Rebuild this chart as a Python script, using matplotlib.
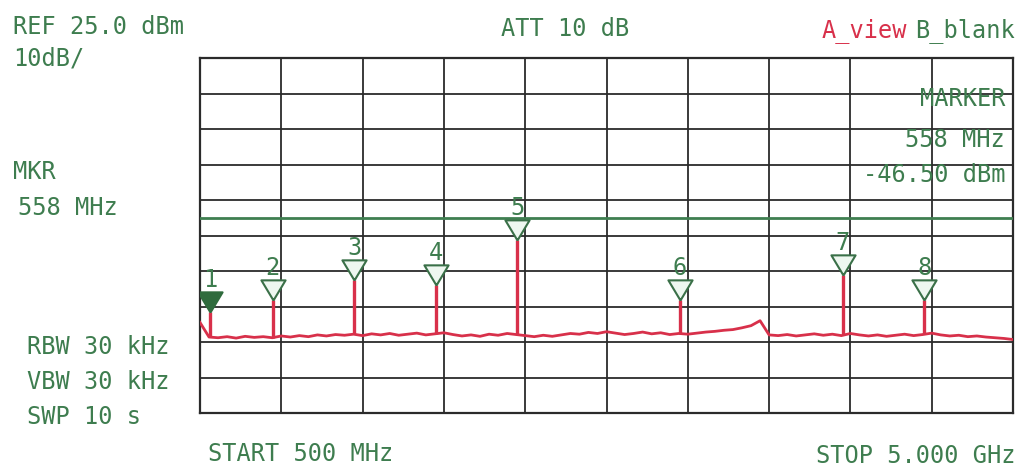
import numpy as np
import matplotlib
matplotlib.use("Agg")
import matplotlib.pyplot as plt

plt.rcParams['font.family'] = ['DejaVu Sans Mono', 'DejaVu Sans']

# sweep: 500 MHz .. 5 GHz, noise floor of trace A (dBm)
sweep_mhz = np.arange(500, 5001, 50)
floor_dbm = [-49.5, -53.6, -53.8, -53.5, -53.9, -53.4, -53.7, -53.5, -53.8, -53.3,
             -53.6, -53.2, -53.5, -53.0, -53.3, -52.9, -53.1, -52.8, -53.2, -52.7,
             -53.0, -52.6, -53.1, -52.8, -52.5, -53.0, -52.7, -52.4, -52.9, -53.3,
             -53.0, -53.4, -52.8, -53.1, -52.6, -52.9, -53.2, -53.5, -53.1, -53.4,
             -53.0, -52.6, -52.8, -52.3, -52.6, -52.1, -52.5, -52.9, -52.6, -52.2,
             -52.7, -52.4, -52.9, -52.6, -52.8, -52.5, -52.2, -52.0, -51.7, -51.5,
             -51.0, -50.4, -49.0, -53.0, -53.2, -52.9, -53.3, -53.0, -52.7, -53.1,
             -52.8, -53.2, -52.6, -53.0, -53.3, -53.0, -53.4, -53.1, -52.8, -53.2,
             -52.9, -52.5, -53.0, -53.3, -53.1, -53.5, -53.3, -53.6, -53.8, -54.0,
             -54.3]

# markers 1..8
marker_mhz = [558, 902, 1353, 1804, 2255, 3157, 4059, 4510]
marker_dbm = [-46.5, -43.2, -37.5, -38.9, -26.3, -43.2, -36.1, -43.2]

ref_dbm = 25.0
db_per_div = 10
display_line_dbm = -20

W, H = 1021, 473
green = '#3e7d4f'
red = '#d8304a'
gridc = '#2b2b2b'

fig = plt.figure(figsize=(W / 100, H / 100), dpi=100)
ax = fig.add_axes([200 / W, 1 - 413 / H, 813 / W, 355 / H])
ax.set_xlim(500, 5000)
ax.set_ylim(ref_dbm - 10 * db_per_div, ref_dbm)
ax.set_xticks(np.linspace(500, 5000, 11))
ax.set_yticks(np.arange(ref_dbm - 10 * db_per_div, ref_dbm + 1, db_per_div))
ax.tick_params(length=0, labelbottom=False, labelleft=False)
ax.grid(True, color=gridc, lw=1.3)
for s in ax.spines.values():
    s.set_color(gridc)
    s.set_linewidth(1.6)

ax.axhline(display_line_dbm, color='#3f7f50', lw=2.0, zorder=3)

# trace and the spurs
ax.plot(sweep_mhz, floor_dbm, color=red, lw=2.0, zorder=4)
base = np.interp(marker_mhz, sweep_mhz, floor_dbm)
ax.vlines(marker_mhz, base, marker_dbm, color=red, lw=2.4, zorder=4)

# marker triangles, tip sits on the peak
tri = [(0, 0), (-0.6, 1), (0.6, 1), (0, 0)]
ax.plot(marker_mhz[1:], marker_dbm[1:], ls='none', marker=tri, ms=29,
        mfc='#eef7f0', mec='#3a7048', mew=1.5, zorder=5)
ax.plot(marker_mhz[:1], marker_dbm[:1], ls='none', marker=tri, ms=29,
        mfc='#2f6b3d', mec='#2f6b3d', mew=1.5, zorder=5)
for i, (f, lvl) in enumerate(zip(marker_mhz, marker_dbm)):
    ax.annotate(str(i + 1), (f, lvl), xytext=(0, 18), textcoords='offset points',
                ha='center', va='baseline', fontsize=17, color=green, zorder=6)


def label(x, y, s, ha='left', color=green, size=17):
    fig.text(x / W, 1 - y / H, s, ha=ha, va='center', color=color, fontsize=size)


label(13, 27, 'REF 25.0 dBm')
label(13, 58, '10dB/')
label(13, 172, 'MKR')
label(18, 208, '558 MHz')
label(565, 29, 'ATT 10 dB', ha='center')
label(907, 31, 'A_view', ha='right', color=red)
label(1015, 31, 'B_blank', ha='right')
label(1005, 99, 'MARKER', ha='right')
label(1005, 140, '558 MHz', ha='right')
label(1005, 175, '-46.50 dBm', ha='right')
label(27, 347, 'RBW 30 kHz')
label(27, 382, 'VBW 30 kHz')
label(27, 417, 'SWP 10 s')
label(208, 454, 'START 500 MHz')
label(1015, 456, 'STOP 5.000 GHz', ha='right')

fig.savefig('out.png', dpi=100)
